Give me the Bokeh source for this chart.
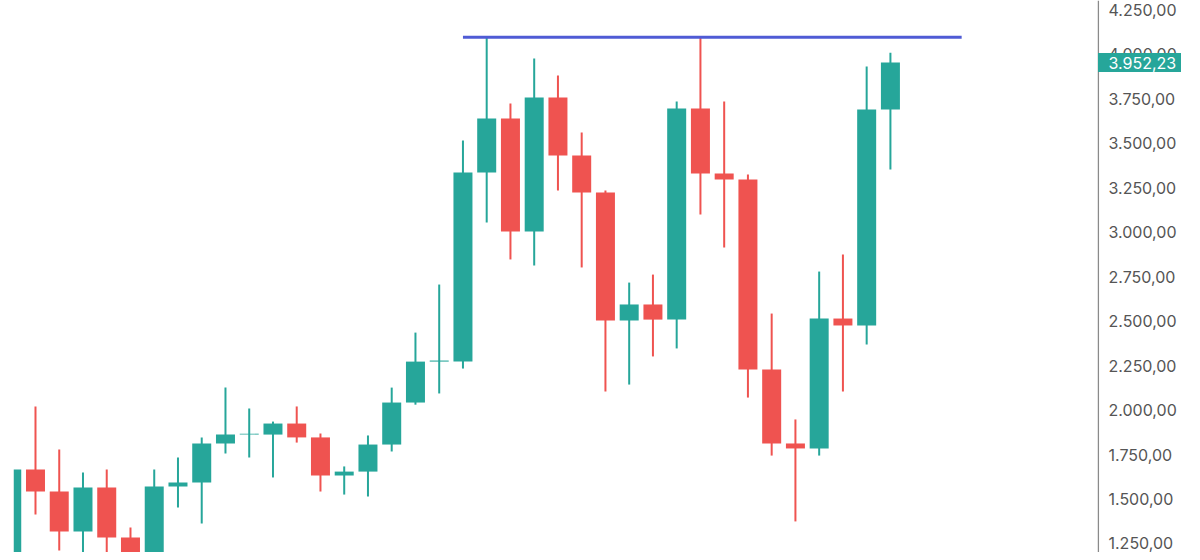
from bokeh.plotting import figure
from bokeh.models import ColumnDataSource, Range1d
from bokeh.layouts import row
from bokeh.core.properties import value
from bokeh.embed import file_html
from bokeh.resources import INLINE

# ---- data ----
opens = [1100, 1666, 1542, 1317, 1565, 1284, 1183, 1570, 1593, 1812,
         1862, 1862, 1924, 1846, 1632, 1654, 1806, 2042, 2272, 2272,
         3334, 3638, 3003, 3756, 3430, 3222, 2503, 2593, 2508, 3694,
         3329, 3295, 2228, 1812, 1784, 2514, 2475, 3688]
closes = [1666, 1542, 1317, 1565, 1284, 1183, 1570, 1593, 1812, 1862,
          1867, 1924, 1846, 1632, 1654, 1806, 2042, 2272, 2278, 3334,
          3638, 3003, 3756, 3430, 3222, 2503, 2593, 2508, 3694, 3329,
          3295, 2228, 1812, 1784, 2514, 2475, 3688, 3952.23]
highs = [1670, 2020, 1778, 1649, 1666, 1340, 1666, 1733, 1845, 2126,
         2008, 1935, 2020, 1868, 1683, 1857, 2126, 2435, 2705, 3514,
         4093, 3722, 3975, 3879, 3559, 3233, 2716, 2761, 3733, 4098,
         3733, 3323, 2542, 1947, 2778, 2874, 3930, 4008]
lows = [1050, 1413, 1211, 1177, 1126, 1150, 1170, 1452, 1362, 1756,
        1733, 1621, 1817, 1542, 1525, 1514, 1767, 2030, 2093, 2233,
        3053, 2846, 2812, 3233, 2801, 2104, 2143, 2301, 2346, 3098,
        2913, 2070, 1744, 1374, 1744, 2104, 2368, 3351]

resistance_level = 4095
resistance_start = 19
resistance_end = 40

y_ticks = [1250, 1500, 1750, 2000, 2250, 2500, 2750, 3000, 3250, 3500, 3750, 4000, 4250]
last_price = 3952.23

GREEN = "#26a69a"
RED = "#ef5350"


def fmt(v):
    s = f"{v:,.2f}"
    return s.replace(",", "X").replace(".", ",").replace("X", ".")


idx = list(range(len(opens)))
colors = [GREEN if c >= o else RED for o, c in zip(opens, closes)]
tops = [max(o, c) for o, c in zip(opens, closes)]
bottoms = [min(o, c) for o, c in zip(opens, closes)]

src = ColumnDataSource(dict(x=idx, top=tops, bottom=bottoms, high=highs, low=lows, color=colors))

yr = Range1d(1199.4, 4301)

# ---- main price panel ----
p = figure(width=1097, height=552, output_backend="svg", toolbar_location=None,
           x_range=Range1d(0.074, 45.72), y_range=yr,
           x_axis_location=None, y_axis_location=None,
           min_border_left=13, min_border_right=0, min_border_top=0, min_border_bottom=0)
p.outline_line_color = None
p.xgrid.grid_line_color = None
p.ygrid.grid_line_color = None
p.background_fill_color = "white"
p.border_fill_color = "white"

p.segment(x0="x", y0="low", x1="x", y1="high", color="color", line_width=2, source=src)
p.vbar(x="x", width=0.8, top="top", bottom="bottom", fill_color="color", line_color=None, source=src)

p.segment(x0=[resistance_start], y0=[resistance_level], x1=[resistance_end], y1=[resistance_level],
          line_color="#4f5bd5", line_width=3)

# ---- right price-scale panel ----
q = figure(width=87, height=552, output_backend="svg", toolbar_location=None,
           x_range=Range1d(0, 87), y_range=yr,
           x_axis_location=None, y_axis_location=None,
           min_border_left=0, min_border_right=0, min_border_top=0, min_border_bottom=0)
q.outline_line_color = None
q.xgrid.grid_line_color = None
q.ygrid.grid_line_color = None
q.background_fill_color = "white"
q.border_fill_color = "white"

# scale line on the left edge
q.segment(x0=[0.8], y0=[yr.start], x1=[0.8], y1=[yr.end], line_color="#8a8a8a", line_width=1.5)

q.text(x=[11] * len(y_ticks), y=y_ticks, text=[fmt(v) for v in y_ticks],
       text_font=value("Inter"), text_font_size="16px", text_color="#555555",
       text_align="left", text_baseline="middle")

# last price tag
q.rect(x=[42], y=[last_price], width=83, height=19, width_units="screen", height_units="screen",
       fill_color=GREEN, line_color=None)
q.text(x=[11], y=[last_price], text=[fmt(last_price)],
       text_font=value("Inter"), text_font_size="16px", text_color="white",
       text_align="left", text_baseline="middle")

layout = row(p, q, spacing=0)
open("out.html", "w").write(file_html(layout, INLINE))
